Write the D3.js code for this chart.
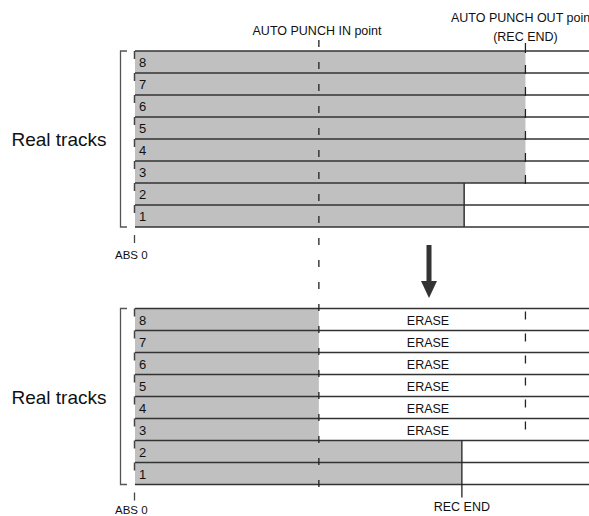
<!DOCTYPE html>
<html>
<head>
<meta charset="utf-8">
<script src="https://cdn.jsdelivr.net/npm/d3@7"></script>
<style>
  body { margin: 0; background: #fff; }
  svg text { font-family: "Liberation Sans", Arial, sans-serif; fill: #111; }
</style>
</head>
<body>
<svg id="chart" width="589" height="516"></svg>
<script>
// tracks listed top to bottom
const tracks = [8, 7, 6, 5, 4, 3, 2, 1];
// recorded length per track before the punch (time units, ABS 0 = 0)
const beforeEnd = [86, 86, 86, 86, 86, 86, 72.5, 72.5];
// recorded length per track after the punch
const afterEnd = [40.5, 40.5, 40.5, 40.5, 40.5, 40.5, 72, 72];
const erased = [true, true, true, true, true, true, false, false];
const punchIn = 40.5;
const punchOut = 86;
const recEnd = 72;

const svg = d3.select("#chart");
const width = +svg.attr("width");

const x = d3.scaleLinear().domain([0, 100]).range([135, 589]);

const yTop = d3.scaleBand().domain(tracks).range([51, 227]).padding(0);
const yBot = d3.scaleBand().domain(tracks).range([308.5, 484.5]).padding(0);

function panel(y, ends, showErase, absY) {
  const g = svg.append("g");
  const rows = tracks.map((t, i) => ({ t, end: ends[i], erase: showErase && erased[i] }));

  // grey recorded part
  g.selectAll("rect.rec")
    .data(rows)
    .enter()
    .append("rect")
    .attr("x", x(0))
    .attr("y", d => y(d.t))
    .attr("width", d => x(d.end) - x(0))
    .attr("height", y.bandwidth())
    .attr("fill", "#c0c0c0");

  // row lines
  const lines = tracks.map(t => y(t)).concat([y(tracks[tracks.length - 1]) + y.bandwidth()]);
  g.selectAll("line.row")
    .data(lines)
    .enter()
    .append("line")
    .attr("x1", x(0))
    .attr("x2", width)
    .attr("y1", d => d)
    .attr("y2", d => d)
    .attr("stroke", "#333")
    .attr("stroke-width", 1.5);

  // little ticks on the left edge of every track
  g.selectAll("line.tick")
    .data(rows)
    .enter()
    .append("line")
    .attr("x1", x(0) - 0.5)
    .attr("x2", x(0) - 0.5)
    .attr("y1", d => y(d.t))
    .attr("y2", d => y(d.t) + 8)
    .attr("stroke", "#444")
    .attr("stroke-width", 1.5);

  g.selectAll("text.num")
    .data(rows)
    .enter()
    .append("text")
    .attr("x", x(0) + 4)
    .attr("y", d => y(d.t) + 16)
    .attr("font-size", 13)
    .text(d => d.t);

  g.selectAll("text.erase")
    .data(rows.filter(d => d.erase))
    .enter()
    .append("text")
    .attr("x", 428)
    .attr("y", d => y(d.t) + 16)
    .attr("text-anchor", "middle")
    .attr("font-size", 12.5)
    .text("ERASE");

  // bracket
  const top = y(tracks[0]);
  const bottom = y(tracks[tracks.length - 1]) + y.bandwidth();
  g.append("path")
    .attr("d", `M127,${top}H120.5V${bottom}H127`)
    .attr("fill", "none")
    .attr("stroke", "#555")
    .attr("stroke-width", 1.3);

  g.append("text")
    .attr("x", 59)
    .attr("y", (top + bottom) / 2 + 7)
    .attr("text-anchor", "middle")
    .attr("font-size", 19)
    .text("Real tracks");

  // ABS 0 mark
  g.append("line")
    .attr("x1", x(0) - 0.5).attr("x2", x(0) - 0.5)
    .attr("y1", bottom + 8).attr("y2", bottom + 16)
    .attr("stroke", "#444").attr("stroke-width", 1.3);
  g.append("text")
    .attr("x", 115)
    .attr("y", absY)
    .attr("font-size", 11.5)
    .text("ABS 0");

  return { top, bottom };
}

const p1 = panel(yTop, beforeEnd, false, 259);
const p2 = panel(yBot, afterEnd, true, 513.5);

// punch-out dashes, one per track
function outDashes(y, rows, offsetTop, len) {
  svg.append("g").selectAll("line")
    .data(rows)
    .enter()
    .append("line")
    .attr("x1", x(punchOut))
    .attr("x2", x(punchOut))
    .attr("y1", d => y(d) + offsetTop)
    .attr("y2", d => y(d) + offsetTop + len)
    .attr("stroke", "#222")
    .attr("stroke-width", 1.3);
}
outDashes(yTop, tracks.slice(0, 6), 14, 9);
svg.append("line")
  .attr("x1", x(punchOut)).attr("x2", x(punchOut))
  .attr("y1", 43).attr("y2", 53)
  .attr("stroke", "#222").attr("stroke-width", 1.3);
outDashes(yBot, tracks.slice(0, 6), 3, 8);

// solid end lines for tracks 1-2
svg.append("line")
  .attr("x1", x(beforeEnd[6])).attr("x2", x(beforeEnd[6]))
  .attr("y1", yTop(2)).attr("y2", p1.bottom)
  .attr("stroke", "#333").attr("stroke-width", 1.5);
svg.append("line")
  .attr("x1", x(recEnd)).attr("x2", x(recEnd))
  .attr("y1", yBot(2)).attr("y2", p2.bottom + 13)
  .attr("stroke", "#222").attr("stroke-width", 1.3);
svg.append("text")
  .attr("x", x(recEnd))
  .attr("y", p2.bottom + 26)
  .attr("text-anchor", "middle")
  .attr("font-size", 12.5)
  .text("REC END");

// punch-in dashed line through both panels
svg.append("line")
  .attr("x1", x(punchIn)).attr("x2", x(punchIn))
  .attr("y1", 40).attr("y2", 490)
  .attr("stroke", "#222")
  .attr("stroke-width", 1.3)
  .attr("stroke-dasharray", "7,15");

// top labels
svg.append("text")
  .attr("x", 317).attr("y", 35)
  .attr("text-anchor", "middle")
  .attr("font-size", 12.5)
  .text("AUTO PUNCH IN point");
svg.append("text")
  .attr("x", 451).attr("y", 22)
  .attr("font-size", 12.5)
  .text("AUTO PUNCH OUT point");
svg.append("text")
  .attr("x", x(punchOut)).attr("y", 41)
  .attr("text-anchor", "middle")
  .attr("font-size", 12.5)
  .text("(REC END)");

// arrow between panels
svg.append("rect")
  .attr("x", 426.5).attr("y", 245)
  .attr("width", 5).attr("height", 38)
  .attr("fill", "#333");
svg.append("path")
  .attr("d", "M421,281H437L429,298Z")
  .attr("fill", "#333");
</script>
</body>
</html>
